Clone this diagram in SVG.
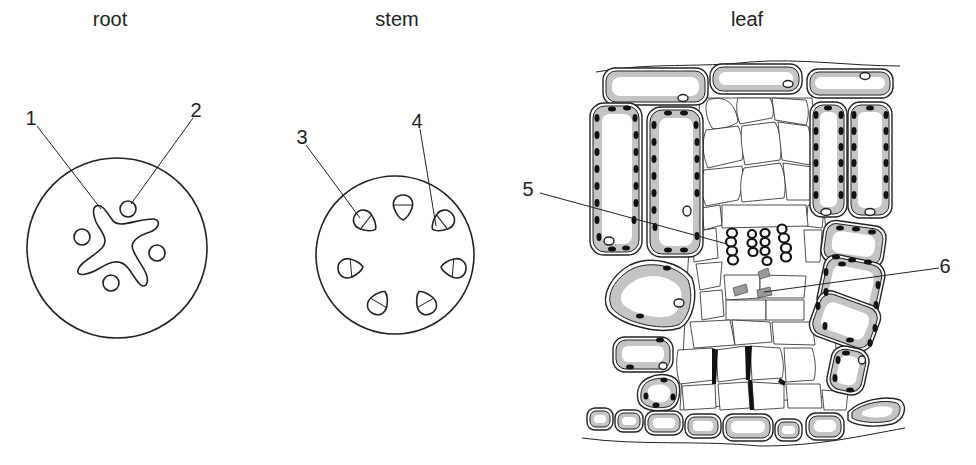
<svg xmlns="http://www.w3.org/2000/svg" width="976" height="465" viewBox="0 0 976 465">
<style>
text{font-family:"Liberation Sans",Arial,sans-serif;font-size:20px;fill:#222}
.o{fill:none;stroke:#222;stroke-width:1.6}
.l{fill:none;stroke:#222;stroke-width:1}
.c1{fill:#fff;stroke:#222;stroke-width:1.4}
.c2{fill:#c4c4c4;stroke:#222;stroke-width:1}
.c3{fill:#fff;stroke:none}
.m{fill:#fff;stroke:#222;stroke-width:0.8;stroke-linejoin:round}
.ch{fill:#111}
.x{fill:#fff;stroke:#111;stroke-width:2.2}
.ph{fill:#999;stroke:#333;stroke-width:0.6}
</style>
<defs>
<path id="td" d="M0,-13 C8,-13 11,-6 9,0 C7,6 3,11 0,12 C-3,11 -7,6 -9,0 C-11,-6 -8,-13 0,-13Z" class="o"/>
</defs>
<text x="110" y="26" text-anchor="middle">root</text>
<text x="397" y="26" text-anchor="middle">stem</text>
<text x="747" y="26" text-anchor="middle">leaf</text>

<g id="root">
<circle cx="117" cy="248" r="90" class="o"/>
<path class="o" d="M96,206 C103,203 108,215 114,222 C122,228 140,218 154,219 C162,221 158,229 150,232 C138,236 128,242 134,252 C138,262 152,276 146,285 C140,290 134,275 128,268 C120,258 110,262 100,268 C90,274 76,278 78,270 C80,262 92,258 102,248 C110,240 100,230 96,222 C93,214 92,208 96,206Z"/>
<circle cx="128" cy="209" r="8" class="o"/>
<circle cx="82" cy="237" r="8" class="o"/>
<circle cx="157" cy="253" r="8" class="o"/>
<circle cx="111" cy="283" r="8" class="o"/>
</g>

<g id="stem">
<circle cx="395" cy="255" r="79" class="o"/>
<g transform="translate(366,222) rotate(-52)"><use href="#td"/><line x1="-9" y1="0" x2="9" y2="0" class="l"/></g>
<g transform="translate(403,208)"><use href="#td"/><line x1="-9" y1="-3" x2="9" y2="-3" class="l"/></g>
<g transform="translate(442,222) rotate(52)"><use href="#td"/><line x1="-9" y1="0" x2="9" y2="0" class="l"/></g>
<g transform="translate(351,268) rotate(-95)"><use href="#td"/><line x1="-9" y1="0" x2="9" y2="0" class="l"/></g>
<g transform="translate(453,268) rotate(95)"><use href="#td"/><line x1="-9" y1="0" x2="9" y2="0" class="l"/></g>
<g transform="translate(379,302) rotate(-150)"><use href="#td"/><line x1="-9" y1="-1" x2="9" y2="-1" class="l"/></g>
<g transform="translate(425,302) rotate(150)"><use href="#td"/><line x1="-9" y1="-1" x2="9" y2="-1" class="l"/></g>
</g>

<g id="leaf">
<path class="l" d="M596,72 C650,62 700,68 750,62 C800,58 850,66 900,66"/>
<path class="l" d="M582,438 C640,446 700,440 760,446 C820,446 860,436 905,428"/>
<g>
<path class="m" d="M700,98 L812,98 L826,230 L840,395 L680,410 L690,230Z"/>
<path class="m" d="M708,100 C720,96 735,98 738,122 C730,128 715,130 712,128 C706,118 704,106 708,100Z"/>
<path class="m" d="M738,98 L770,98 C774,106 774,114 772,118 L740,124 C736,114 736,104 738,98Z"/>
<path class="m" d="M772,98 L806,100 C810,110 808,120 806,125 L775,120Z"/>
<path class="m" d="M706,130 L738,126 C744,140 744,150 742,160 L708,168 C702,155 702,140 706,130Z"/>
<path class="m" d="M742,126 L775,122 C782,135 782,150 780,160 L745,165 C742,150 740,138 742,126Z"/>
<path class="m" d="M778,122 L808,126 C812,140 812,155 810,165 L782,160Z"/>
<path class="m" d="M704,170 L742,166 C744,180 742,190 738,200 L706,206 C700,192 700,180 704,170Z"/>
<path class="m" d="M744,168 L780,163 C786,175 786,188 784,198 L742,202 C740,190 740,178 744,168Z"/>
<path class="m" d="M783,163 L812,167 C816,180 817,192 815,200 L787,200Z"/>
<path class="m" d="M702,208 L720,205 L722,225 L704,230Z"/>
<path class="m" d="M808,205 L824,210 L822,228 L806,226Z"/>
<path class="m" d="M692,232 L716,228 L718,258 L694,262Z"/>
<path class="m" d="M696,264 L722,262 L720,286 L700,290Z"/>
<path class="m" d="M700,292 L722,290 L724,316 L702,320Z"/>
<path class="m" d="M722,205 L806,205 L808,226 L722,228Z"/>
<path class="m" d="M724,275 L760,275 L760,298 L726,300Z"/>
<path class="m" d="M760,275 L806,276 L804,298 L760,298Z"/>
<path class="m" d="M726,300 L766,300 L766,320 L726,320Z"/>
<path class="m" d="M766,300 L804,300 L804,320 L766,320Z"/>
<path class="m" d="M804,230 L822,230 L820,262 L806,262Z"/>
<path class="m" d="M690,322 L730,320 L735,345 L694,348Z"/>
<path class="m" d="M732,320 L770,322 L772,342 L735,345Z"/>
<path class="m" d="M772,322 L812,322 L815,345 L774,344Z"/>
<path class="m" d="M678,350 L712,348 C716,360 716,372 714,380 L680,384 C676,372 676,360 678,350Z"/>
<path class="m" d="M716,350 L745,346 C750,360 750,370 748,378 L718,382Z"/>
<path class="m" d="M750,346 L780,348 C784,360 784,370 782,378 L752,380Z"/>
<path class="m" d="M784,348 L812,348 C816,360 816,372 814,380 L786,382Z"/>
<path class="m" d="M682,386 L715,384 L716,408 L684,410Z"/>
<path class="m" d="M718,384 L748,382 L750,408 L720,410Z"/>
<path class="m" d="M752,382 L784,384 L784,408 L754,410Z"/>
<path class="m" d="M786,384 L820,384 L822,408 L788,408Z"/>
<path class="m" d="M822,390 L848,392 L846,410 L824,410Z"/>
<path fill="#111" d="M745,346 L752,346 L750,380 L746,380Z M712,348 L718,350 L716,384 L712,384Z M780,378 L786,382 L784,386 L778,382Z M748,380 L752,380 L754,410 L750,410Z"/>
</g>
<g>
<ellipse cx="732" cy="233" rx="5" ry="4.5" class="x"/><ellipse cx="731" cy="242" rx="5" ry="4.5" class="x"/><ellipse cx="732" cy="251" rx="5" ry="4.5" class="x"/><ellipse cx="733" cy="260" rx="5" ry="4.5" class="x"/>
<ellipse cx="752" cy="234" rx="4" ry="4" class="x"/><ellipse cx="752" cy="243" rx="4.5" ry="4" class="x"/><ellipse cx="753" cy="252" rx="4.5" ry="4" class="x"/>
<ellipse cx="765" cy="233" rx="4.5" ry="4" class="x"/><ellipse cx="765" cy="242" rx="4.5" ry="4" class="x"/><ellipse cx="765" cy="251" rx="4.5" ry="4" class="x"/><ellipse cx="767" cy="261" rx="4.5" ry="4" class="x"/>
<ellipse cx="782" cy="229" rx="4.5" ry="4.5" class="x"/><ellipse cx="784" cy="238" rx="5" ry="4.5" class="x"/><ellipse cx="786" cy="248" rx="5" ry="4.5" class="x"/><ellipse cx="786" cy="257" rx="5" ry="4.5" class="x"/>
</g>
<path class="ph" d="M733,288 L746,284 L748,292 L735,296Z"/>
<path class="ph" d="M757,290 L770,287 L772,295 L758,298Z"/>
<path class="ph" d="M758,272 L768,268 L770,276 L760,279Z"/>
<g>
<rect x="603" y="68" width="105" height="37" rx="12" class="c1"/><rect x="606" y="71" width="99" height="31" rx="10" class="c2"/><rect x="612" y="77" width="87" height="19" rx="8" class="c3"/><ellipse cx="683" cy="98" rx="5" ry="3.5" class="c1"/>
<rect x="710" y="64" width="92" height="30" rx="12" class="c1"/><rect x="713" y="67" width="86" height="24" rx="10" class="c2"/><rect x="719" y="72" width="74" height="13" rx="6" class="c3"/><ellipse cx="788" cy="84" rx="5" ry="3.5" class="c1"/>
<rect x="807" y="69" width="86" height="29" rx="11" class="c1"/><rect x="810" y="72" width="80" height="23" rx="9" class="c2"/><rect x="815" y="77" width="70" height="12" rx="6" class="c3"/><ellipse cx="865" cy="76" rx="5" ry="3.5" class="c1"/>
</g>
<g>
<rect x="590" y="103" width="52" height="152" rx="14" class="c1"/><rect x="593" y="106" width="46" height="146" rx="12" class="c2"/><rect x="602" y="114" width="30" height="130" rx="8" class="c3"/>
<rect x="647" y="107" width="56" height="150" rx="14" class="c1"/><rect x="650" y="110" width="50" height="144" rx="12" class="c2"/><rect x="659" y="118" width="34" height="128" rx="8" class="c3"/>
<rect x="810" y="102" width="37" height="115" rx="12" class="c1"/><rect x="813" y="105" width="31" height="109" rx="10" class="c2"/><rect x="820" y="112" width="17" height="95" rx="6" class="c3"/>
<rect x="848" y="102" width="44" height="116" rx="12" class="c1"/><rect x="851" y="105" width="38" height="110" rx="10" class="c2"/><rect x="858" y="112" width="24" height="96" rx="6" class="c3"/>
<g class="ch">
<ellipse cx="597" cy="118" rx="2.5" ry="4"/><ellipse cx="597" cy="135" rx="2.5" ry="4"/><ellipse cx="597" cy="152" rx="2.5" ry="4"/><ellipse cx="597" cy="169" rx="2.5" ry="4"/><ellipse cx="597" cy="186" rx="2.5" ry="4"/><ellipse cx="597" cy="203" rx="2.5" ry="4"/><ellipse cx="597" cy="220" rx="2.5" ry="4"/><ellipse cx="599" cy="237" rx="2.5" ry="4"/>
<ellipse cx="635" cy="118" rx="2.5" ry="4"/><ellipse cx="636" cy="135" rx="2.5" ry="4"/><ellipse cx="636" cy="152" rx="2.5" ry="4"/><ellipse cx="636" cy="169" rx="2.5" ry="4"/><ellipse cx="636" cy="186" rx="2.5" ry="4"/><ellipse cx="636" cy="203" rx="2.5" ry="4"/><ellipse cx="634" cy="220" rx="2.5" ry="4"/><ellipse cx="626" cy="248" rx="4" ry="2.5"/><ellipse cx="612" cy="249" rx="4" ry="2.5"/><ellipse cx="612" cy="109" rx="4" ry="2.5"/><ellipse cx="627" cy="108" rx="4" ry="2.5"/>
<ellipse cx="654" cy="125" rx="2.5" ry="4"/><ellipse cx="654" cy="142" rx="2.5" ry="4"/><ellipse cx="654" cy="159" rx="2.5" ry="4"/><ellipse cx="654" cy="176" rx="2.5" ry="4"/><ellipse cx="654" cy="193" rx="2.5" ry="4"/><ellipse cx="654" cy="210" rx="2.5" ry="4"/><ellipse cx="655" cy="227" rx="2.5" ry="4"/>
<ellipse cx="696" cy="125" rx="2.5" ry="4"/><ellipse cx="697" cy="142" rx="2.5" ry="4"/><ellipse cx="697" cy="159" rx="2.5" ry="4"/><ellipse cx="697" cy="176" rx="2.5" ry="4"/><ellipse cx="697" cy="193" rx="2.5" ry="4"/><ellipse cx="697" cy="236" rx="2.5" ry="4"/><ellipse cx="668" cy="250" rx="4" ry="2.5"/><ellipse cx="684" cy="250" rx="4" ry="2.5"/><ellipse cx="668" cy="113" rx="4" ry="2.5"/><ellipse cx="684" cy="113" rx="4" ry="2.5"/>
<ellipse cx="816" cy="115" rx="2.5" ry="4"/><ellipse cx="816" cy="131" rx="2.5" ry="4"/><ellipse cx="816" cy="147" rx="2.5" ry="4"/><ellipse cx="816" cy="163" rx="2.5" ry="4"/><ellipse cx="816" cy="179" rx="2.5" ry="4"/><ellipse cx="816" cy="195" rx="2.5" ry="4"/>
<ellipse cx="841" cy="115" rx="2.5" ry="4"/><ellipse cx="841" cy="131" rx="2.5" ry="4"/><ellipse cx="841" cy="147" rx="2.5" ry="4"/><ellipse cx="841" cy="163" rx="2.5" ry="4"/><ellipse cx="841" cy="179" rx="2.5" ry="4"/><ellipse cx="841" cy="195" rx="2.5" ry="4"/><ellipse cx="828" cy="108" rx="4" ry="2.5"/>
<ellipse cx="854" cy="115" rx="2.5" ry="4"/><ellipse cx="854" cy="131" rx="2.5" ry="4"/><ellipse cx="854" cy="147" rx="2.5" ry="4"/><ellipse cx="854" cy="163" rx="2.5" ry="4"/><ellipse cx="854" cy="179" rx="2.5" ry="4"/><ellipse cx="854" cy="195" rx="2.5" ry="4"/>
<ellipse cx="886" cy="115" rx="2.5" ry="4"/><ellipse cx="886" cy="131" rx="2.5" ry="4"/><ellipse cx="886" cy="147" rx="2.5" ry="4"/><ellipse cx="886" cy="163" rx="2.5" ry="4"/><ellipse cx="886" cy="179" rx="2.5" ry="4"/><ellipse cx="886" cy="195" rx="2.5" ry="4"/><ellipse cx="870" cy="108" rx="4" ry="2.5"/>
</g>
<ellipse cx="609" cy="241" rx="5" ry="4" class="c1"/><ellipse cx="687" cy="211" rx="4" ry="5" class="c1"/><ellipse cx="826" cy="212" rx="5" ry="3.5" class="c1"/><ellipse cx="870" cy="212" rx="5" ry="3.5" class="c1"/>
</g>
<g>
<path class="c1" d="M630,265 C650,255 680,262 692,278 C698,295 694,320 680,328 C660,335 620,325 608,310 C600,295 612,275 630,265Z"/>
<path class="c2" d="M632,269 C650,260 678,266 688,280 C694,296 690,318 678,325 C660,331 622,322 612,308 C605,295 615,278 632,269Z"/>
<path class="c3" d="M636,280 C652,272 672,277 680,288 C684,300 680,312 670,316 C655,320 630,313 622,303 C618,295 625,286 636,280Z"/>
<ellipse cx="667" cy="268" rx="4" ry="2.5" class="ch"/><ellipse cx="640" cy="316" rx="4" ry="2.5" class="ch"/><ellipse cx="679" cy="303" rx="5" ry="4" class="c1"/>
<rect x="822" y="223" width="63" height="42" rx="12" transform="rotate(8 853 244)" class="c1"/><rect x="825" y="226" width="57" height="36" rx="10" transform="rotate(8 853 244)" class="c2"/><rect x="832" y="233" width="43" height="22" rx="8" transform="rotate(8 853 244)" class="c3"/>
<rect x="820" y="258" width="62" height="58" rx="13" transform="rotate(12 851 287)" class="c1"/><rect x="823" y="261" width="56" height="52" rx="11" transform="rotate(12 851 287)" class="c2"/><rect x="830" y="268" width="42" height="38" rx="8" transform="rotate(12 851 287)" class="c3"/>
<rect x="812" y="297" width="66" height="48" rx="13" transform="rotate(20 845 321)" class="c1"/><rect x="815" y="300" width="60" height="42" rx="11" transform="rotate(20 845 321)" class="c2"/><rect x="822" y="307" width="46" height="28" rx="8" transform="rotate(20 845 321)" class="c3"/>
<rect x="829" y="347" width="38" height="47" rx="13" transform="rotate(12 848 370)" class="c1"/><rect x="832" y="350" width="32" height="41" rx="11" transform="rotate(12 848 370)" class="c2"/><rect x="838" y="356" width="20" height="29" rx="7" transform="rotate(12 848 370)" class="c3"/>
<g class="ch">
<ellipse cx="840" cy="228" rx="4" ry="2.5"/><ellipse cx="856" cy="229" rx="4" ry="2.5"/><ellipse cx="872" cy="232" rx="4" ry="2.5"/><ellipse cx="836" cy="257" rx="4" ry="2.5"/><ellipse cx="852" cy="260" rx="4" ry="2.5"/><ellipse cx="868" cy="262" rx="4" ry="2.5"/>
<ellipse cx="826" cy="272" rx="2.5" ry="4"/><ellipse cx="826" cy="292" rx="2.5" ry="4"/><ellipse cx="878" cy="285" rx="2.5" ry="4"/><ellipse cx="876" cy="305" rx="2.5" ry="4"/><ellipse cx="842" cy="264" rx="4" ry="2.5"/>
<ellipse cx="818" cy="306" rx="2.5" ry="4"/><ellipse cx="825" cy="326" rx="2.5" ry="4"/><ellipse cx="875" cy="328" rx="2.5" ry="4"/><ellipse cx="870" cy="343" rx="2.5" ry="4"/><ellipse cx="850" cy="340" rx="4" ry="2.5"/>
<ellipse cx="838" cy="360" rx="2.5" ry="4"/><ellipse cx="835" cy="378" rx="2.5" ry="4"/><ellipse cx="850" cy="390" rx="4" ry="2.5"/><ellipse cx="846" cy="353" rx="4" ry="2.5"/>
</g>
<ellipse cx="862" cy="360" rx="3.5" ry="4" class="c1"/>
<rect x="613" y="337" width="60" height="35" rx="12" class="c1"/><rect x="616" y="340" width="54" height="29" rx="10" class="c2"/><rect x="622" y="346" width="42" height="16" rx="6" class="c3"/>
<ellipse cx="663" cy="366" rx="4" ry="3.5" class="c1"/><ellipse cx="630" cy="367" rx="4" ry="2.5" class="ch"/><ellipse cx="660" cy="340" rx="4" ry="2.5" class="ch"/>
<path class="c1" d="M648,378 C660,372 676,374 679,384 C681,396 678,408 668,410 C654,412 640,410 638,400 C636,390 640,382 648,378Z"/>
<path class="c2" d="M649,381 C660,376 673,378 676,386 C678,396 675,405 667,407 C655,409 643,407 641,399 C640,391 643,384 649,381Z"/>
<path class="c3" d="M652,386 C660,383 668,385 670,390 C671,397 668,401 663,402 C656,403 649,401 648,396 C647,391 648,388 652,386Z"/>
<g class="ch"><ellipse cx="664" cy="380" rx="3.5" ry="2.5"/><ellipse cx="646" cy="396" rx="2.5" ry="3.5"/><ellipse cx="656" cy="405" rx="3.5" ry="2.5"/><ellipse cx="673" cy="397" rx="2.5" ry="3.5"/></g>
</g>
<g>
<rect x="587" y="408" width="26" height="22" rx="8" class="c1"/><rect x="590" y="411" width="20" height="16" rx="6" class="c2"/><rect x="594" y="415" width="12" height="8" rx="4" class="c3"/>
<rect x="615" y="410" width="28" height="22" rx="8" class="c1"/><rect x="618" y="413" width="22" height="16" rx="6" class="c2"/><rect x="622" y="417" width="14" height="8" rx="4" class="c3"/>
<rect x="645" y="411" width="38" height="24" rx="9" class="c1"/><rect x="648" y="414" width="32" height="18" rx="7" class="c2"/><rect x="653" y="418" width="22" height="10" rx="4" class="c3"/>
<rect x="685" y="414" width="36" height="24" rx="9" class="c1"/><rect x="688" y="417" width="30" height="18" rx="7" class="c2"/><rect x="693" y="421" width="20" height="10" rx="4" class="c3"/>
<rect x="723" y="414" width="50" height="27" rx="10" class="c1"/><rect x="726" y="417" width="44" height="21" rx="8" class="c2"/><rect x="731" y="421" width="34" height="12" rx="5" class="c3"/>
<rect x="775" y="419" width="27" height="22" rx="8" class="c1"/><rect x="778" y="422" width="21" height="16" rx="6" class="c2"/><rect x="782" y="426" width="13" height="8" rx="4" class="c3"/>
<rect x="806" y="413" width="38" height="27" rx="10" class="c1"/><rect x="809" y="416" width="32" height="21" rx="8" class="c2"/><rect x="814" y="420" width="22" height="12" rx="5" class="c3"/>
<path class="c1" d="M848,412 C860,400 885,395 900,400 C908,406 905,420 892,424 C875,428 855,426 848,420Z"/>
<path class="c2" d="M852,412 C863,403 884,399 897,403 C903,408 900,418 890,421 C875,424 858,422 852,418Z"/>
<path class="c3" d="M862,412 C870,407 884,405 892,408 C894,412 890,416 884,417 C875,418 866,417 862,415Z"/>
</g>
</g>

<g id="connectors">
<line x1="37" y1="126" x2="101" y2="209" class="l"/>
<line x1="193" y1="118" x2="131" y2="204" class="l"/>
<line x1="306" y1="145" x2="360" y2="218" class="l"/>
<line x1="420" y1="129" x2="436" y2="226" class="l"/>
<line x1="540" y1="193" x2="727" y2="244" class="l"/>
<line x1="939" y1="268" x2="764" y2="292" class="l"/>
</g>
<g id="labels">
<text x="31" y="125" text-anchor="middle">1</text>
<text x="196" y="117" text-anchor="middle">2</text>
<text x="302" y="144" text-anchor="middle">3</text>
<text x="417" y="128" text-anchor="middle">4</text>
<text x="528" y="196" text-anchor="middle">5</text>
<text x="945" y="273" text-anchor="middle">6</text>
</g>
</svg>
